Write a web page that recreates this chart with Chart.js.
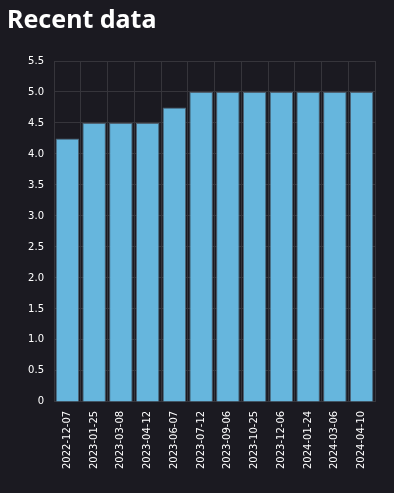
<!DOCTYPE html>
<html>
<head>
<meta charset="utf-8">
<script src="https://cdn.jsdelivr.net/npm/chart.js@4"></script>
<style>
  html, body { margin: 0; padding: 0; background: #1b1a21; }
  #wrap { width: 394px; height: 493px; }
</style>
</head>
<body>
<div id="wrap"><canvas id="recentChart"></canvas></div>
<script>
// DATA
let dates = ["2022-12-07", "2023-01-25", "2023-03-08", "2023-04-12", "2023-06-07", "2023-07-12",
  "2023-09-06", "2023-10-25", "2023-12-06", "2024-01-24", "2024-03-06", "2024-04-10"];
let values = [4.25, 4.5, 4.5, 4.5, 4.75, 5, 5, 5, 5, 5, 5, 5];
let yMin = 0;
let yMax = 5.5;
let yStep = 0.5;

// CHART
const ctx = document.getElementById("recentChart").getContext("2d");

Chart.defaults.font.family = "'DejaVu Sans', sans-serif";
Chart.defaults.color = "#ffffff";

const myChart = new Chart(ctx, {
  type: "bar",
  data: {
    labels: dates,
    datasets: [
      {
        label: "Recent data",
        data: values,
        backgroundColor: "#66b6dd",
        borderColor: "#4f6272",
        borderWidth: 1,
        barPercentage: 0.88,
        categoryPercentage: 1,
      },
    ],
  },
  options: {
    responsive: true,
    maintainAspectRatio: false,
    animation: false,
    layout: {
      padding: { left: 7, right: 19, top: 6, bottom: 15 },
    },
    plugins: {
      legend: { display: false },
      tooltip: { enabled: false },
      title: {
        display: true,
        text: "Recent data",
        align: "start",
        color: "#ffffff",
        font: { family: "'Noto Sans', sans-serif", size: 25, weight: "bold" },
        padding: { top: 0, bottom: 25 },
      },
    },
    scales: {
      x: {
        grid: { color: "#36353b", lineWidth: 1, drawTicks: false },
        border: { color: "#36353b" },
        ticks: {
          color: "#ffffff",
          font: { size: 10 },
          maxRotation: 90,
          minRotation: 90,
          padding: 9,
        },
      },
      y: {
        min: yMin,
        max: yMax,
        grid: { color: "#36353b", lineWidth: 1, drawTicks: false },
        border: { color: "#36353b" },
        afterFit: function (scale) {
          scale.width = 47;
        },
        ticks: {
          stepSize: yStep,
          color: "#ffffff",
          font: { size: 10 },
          padding: 10,
          callback: function (value) {
            return value === 0 ? "0" : value.toFixed(1);
          },
        },
      },
    },
  },
});
</script>
</body>
</html>
